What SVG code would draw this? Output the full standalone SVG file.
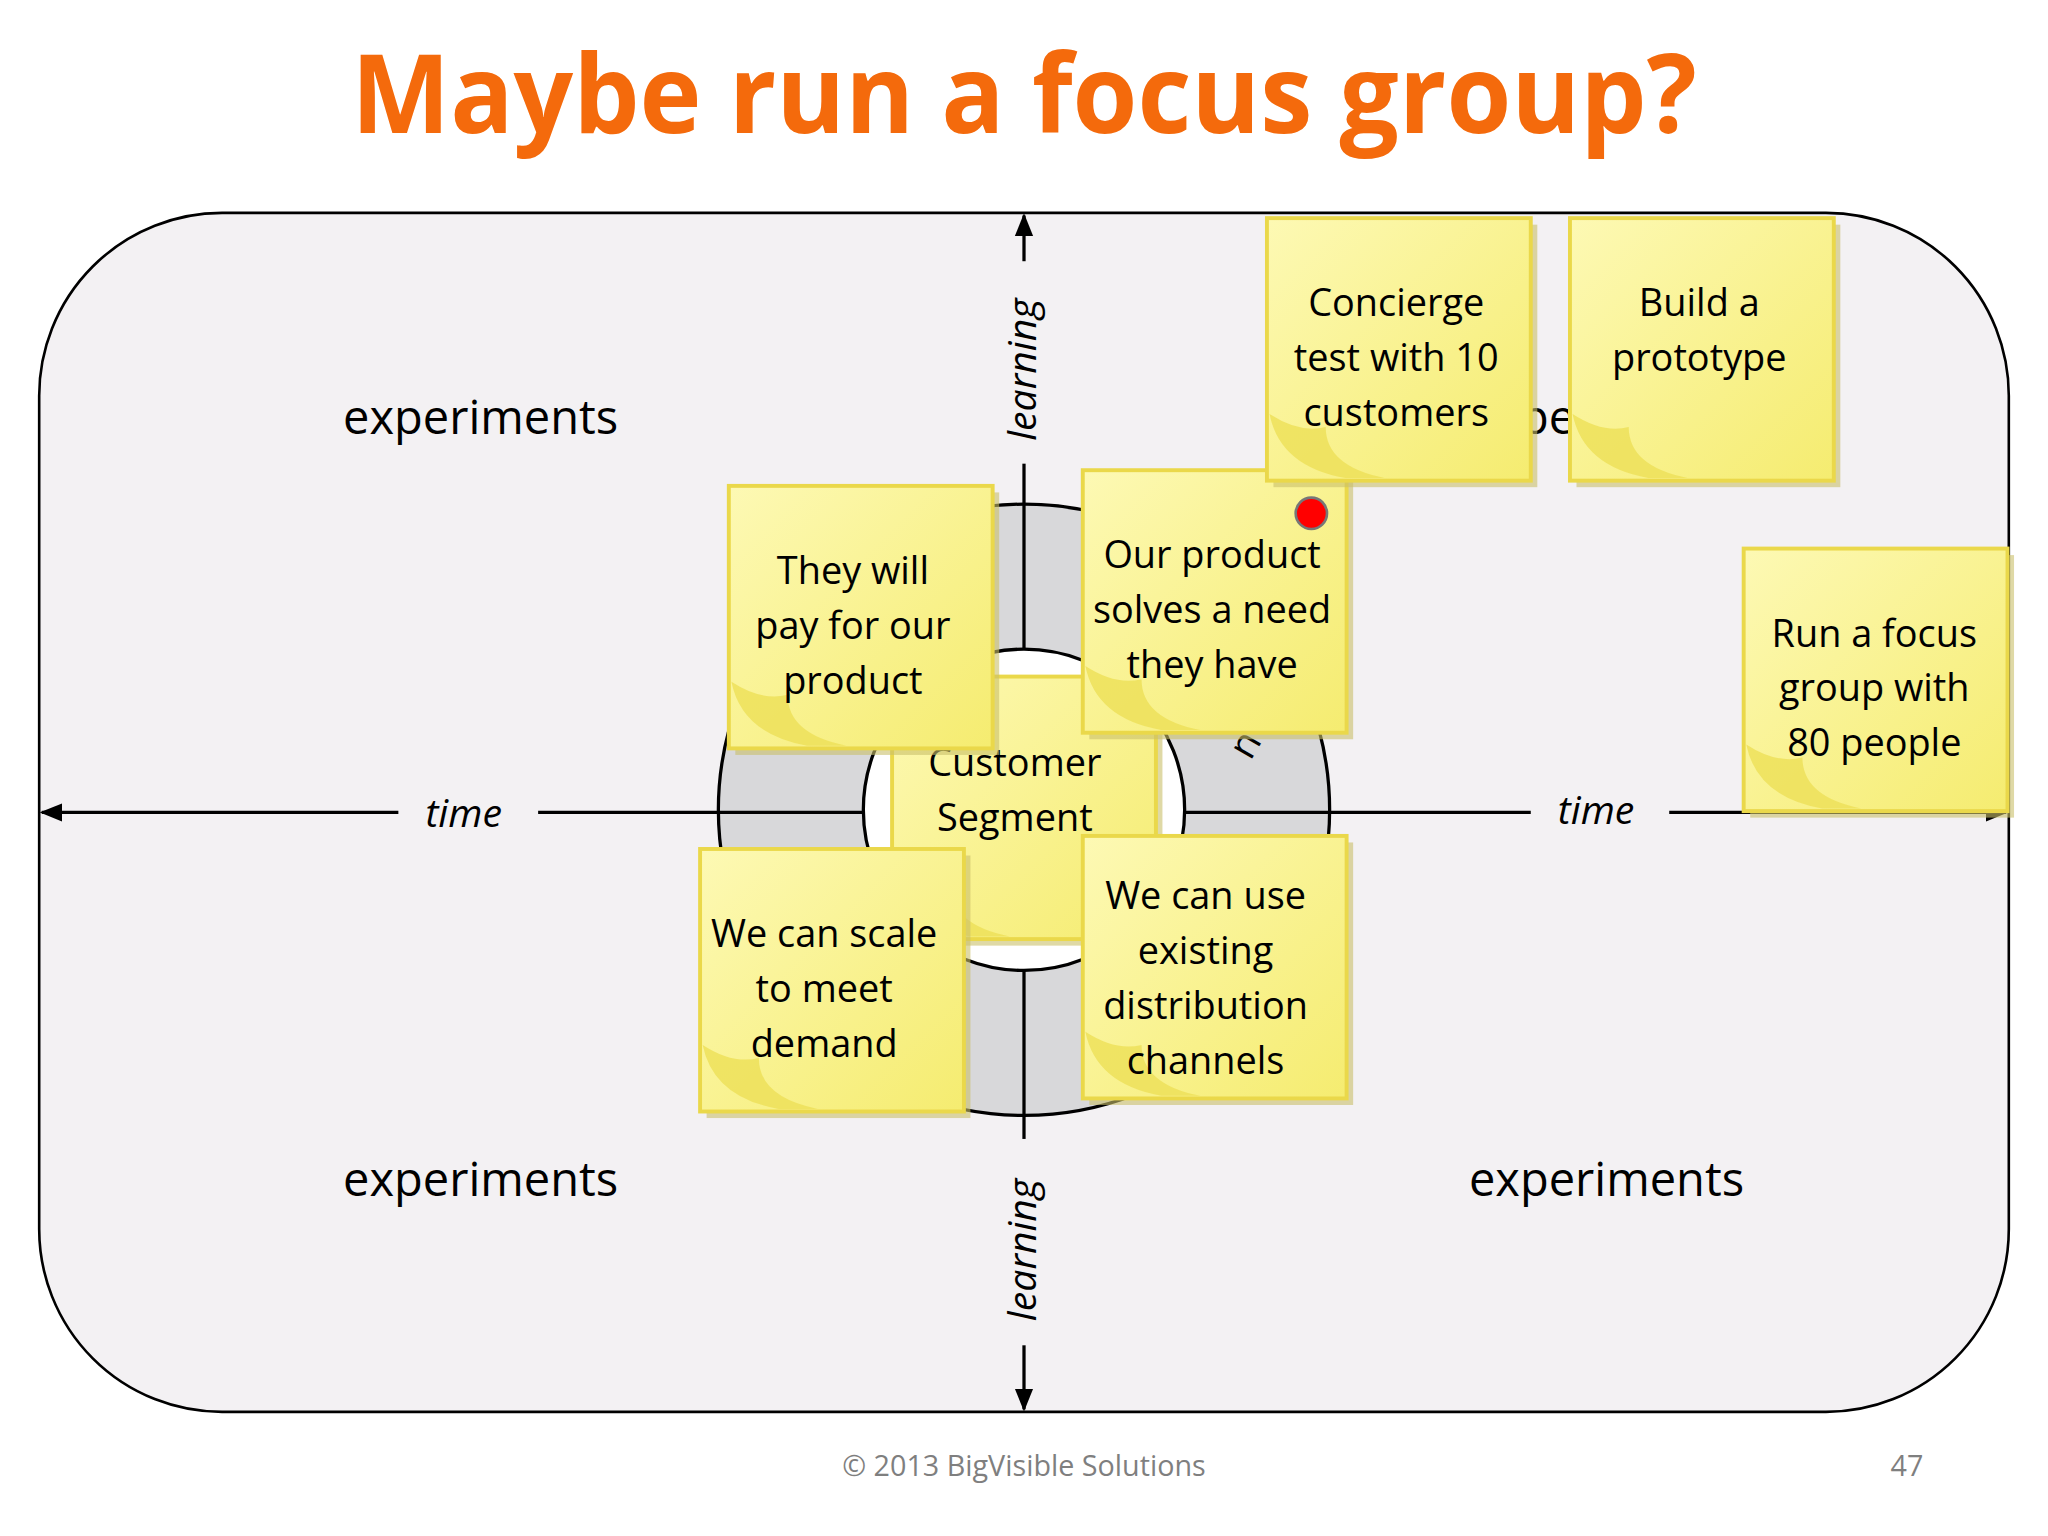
<svg xmlns="http://www.w3.org/2000/svg" width="2048" height="1536" viewBox="0 0 2048 1536">
<defs>
<linearGradient id="ng" x1="0" y1="0" x2="1" y2="1"><stop offset="0" stop-color="#fdf9b4"/><stop offset="1" stop-color="#f5ec70"/></linearGradient>
<marker id="ar" viewBox="0 0 10 10" refX="9" refY="5" markerWidth="7" markerHeight="7" orient="auto-start-reverse"><path d="M0,1 L10,5 L0,9 z" fill="#000"/></marker>
<g id="note">
<rect x="5" y="5" width="202" height="201" fill="#c9bf6a" opacity="0.6"/>
<rect x="0" y="0" width="202" height="201" fill="url(#ng)" stroke="#ead84a" stroke-width="3"/>
<path d="M2,150 Q25,165 45,160 Q45,190 90,199 L60,199 Q10,190 2,150 z" fill="#ede15a" opacity="0.85"/>
</g>
</defs>
<style>
.t{font-family:"Open Sans","Liberation Sans",sans-serif;fill:#000}
.nt{font-size:29px;text-anchor:middle}
.ax{font-size:30px;font-style:italic;text-anchor:middle}
.ex{font-size:36px;text-anchor:middle}
.ln{stroke:#000;stroke-width:2.5;fill:none}
</style>
<rect width="2048" height="1536" fill="#ffffff"/>
<g transform="scale(1.30612)">
<text x="784" y="102" text-anchor="middle" font-family="Open Sans,Liberation Sans,sans-serif" font-weight="bold" font-size="84" fill="#f46a0c" textLength="1030" lengthAdjust="spacingAndGlyphs">Maybe run a focus group?</text>
<g id="board"><rect x="30" y="163" width="1508" height="918" rx="140" fill="#f3f1f3" stroke="#000" stroke-width="2"/></g>
<g id="ring">
<circle cx="784" cy="620" r="234" fill="#d8d8da" stroke="#000" stroke-width="2.5"/>
<circle cx="784" cy="620" r="123" fill="#ffffff" stroke="#000" stroke-width="2.5"/>
<text class="t" font-size="30" transform="translate(962,575) rotate(-60)" text-anchor="middle">n</text>
</g>
<g id="connectors">
<line class="ln" x1="305" y1="622" x2="32" y2="622" marker-end="url(#ar)"/>
<line class="ln" x1="412" y1="622" x2="661" y2="622"/>
<line class="ln" x1="907" y1="622" x2="1172" y2="622"/>
<line class="ln" x1="1278" y1="622" x2="1536" y2="622" marker-end="url(#ar)"/>
<line class="ln" x1="784" y1="200" x2="784" y2="165" marker-end="url(#ar)"/>
<line class="ln" x1="784" y1="355" x2="784" y2="497"/>
<line class="ln" x1="784" y1="743" x2="784" y2="872"/>
<line class="ln" x1="784" y1="1030" x2="784" y2="1079" marker-end="url(#ar)"/>
</g>
<text class="t ax" x="355" y="633">time</text>
<text class="t ax" x="1222" y="631">time</text>
<text class="t ax" transform="translate(793,283) rotate(-90)">learning</text>
<text class="t ax" transform="translate(793,957) rotate(-90)">learning</text>
<text class="t ex" x="368" y="332">experiments</text>
<text class="t ex" x="1230" y="332">experiments</text>
<text class="t ex" x="368" y="916">experiments</text>
<text class="t ex" x="1230" y="916">experiments</text>
<g id="n-customer"><use href="#note" x="683" y="518"/><text class="t nt" x="777" y="594">Customer</text><text class="t nt" x="777" y="636">Segment</text></g>
<g id="n-pay"><use href="#note" x="558" y="372"/><text class="t nt" x="653" y="447">They will</text><text class="t nt" x="653" y="489">pay for our</text><text class="t nt" x="653" y="531">product</text></g>
<g id="n-need"><use href="#note" x="829" y="360"/><text class="t nt" x="928" y="435">Our product</text><text class="t nt" x="928" y="477">solves a need</text><text class="t nt" x="928" y="519">they have</text><circle cx="1004" cy="393" r="12" fill="#f00" stroke="#777" stroke-width="2"/></g>
<g id="n-scale"><use href="#note" x="536" y="650"/><text class="t nt" x="631" y="725">We can scale</text><text class="t nt" x="631" y="767">to meet</text><text class="t nt" x="631" y="809">demand</text></g>
<g id="n-dist"><use href="#note" x="829" y="640"/><text class="t nt" x="923" y="696">We can use</text><text class="t nt" x="923" y="738">existing</text><text class="t nt" x="923" y="780">distribution</text><text class="t nt" x="923" y="822">channels</text></g>
<g id="n-concierge"><use href="#note" x="970" y="167"/><text class="t nt" x="1069" y="242">Concierge</text><text class="t nt" x="1069" y="284">test with 10</text><text class="t nt" x="1069" y="326">customers</text></g>
<g id="n-proto"><use href="#note" x="1202" y="167"/><text class="t nt" x="1301" y="242">Build a</text><text class="t nt" x="1301" y="284">prototype</text></g>
<g id="n-focus"><use href="#note" x="1335" y="420"/><text class="t nt" x="1435" y="495">Run a focus</text><text class="t nt" x="1435" y="537">group with</text><text class="t nt" x="1435" y="579">80 people</text></g>
<text x="784" y="1130" text-anchor="middle" font-family="Open Sans,Liberation Sans,sans-serif" font-size="22" fill="#7f7f7f">© 2013 BigVisible Solutions</text>
<text x="1460" y="1130" text-anchor="middle" font-family="Open Sans,Liberation Sans,sans-serif" font-size="22" fill="#7f7f7f">47</text>
</g>
</svg>
